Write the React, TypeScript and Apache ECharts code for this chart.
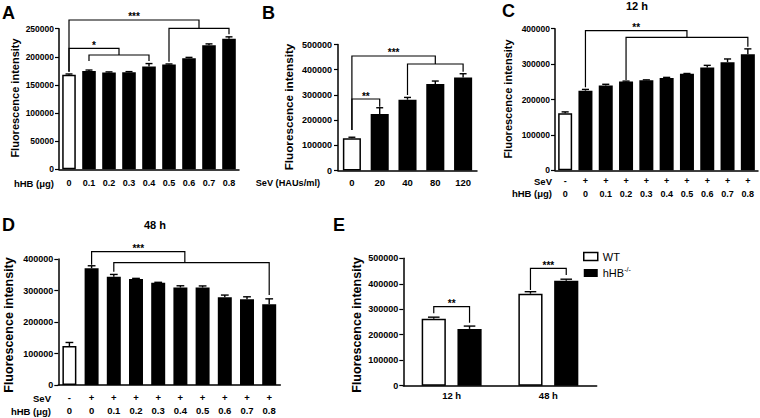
import React, { useEffect, useRef } from 'react';
import * as echarts from 'echarts';

const FONT = '"Liberation Sans", Arial, Helvetica, sans-serif';

// ---------- Panel A ----------
const aCategories = ['0', '0.1', '0.2', '0.3', '0.4', '0.5', '0.6', '0.7', '0.8'];
const aValues = [168000, 175000, 172000, 172500, 183000, 186500, 197500, 220500, 232000];
const aErrors = [1500, 1500, 1200, 1200, 5000, 800, 1500, 2500, 3500];
const aYMax = 250000;
const aYStep = 50000;
// [x1, x2, level, end1, end2] (x in category index, y in data units)
const aBrackets = [
  [0, 6.5, 265500, 173500, 250700],
  [5, 8, 250700, 191300, 240000],
  [0, 2.5, 215100, 173500, 203200],
  [1, 4, 203200, 192600, 192600],
];
const aBracketLabels = ['***', '', '*', ''];

// ---------- Panel B ----------
const bCategories = ['0', '20', '40', '80', '120'];
const bValues = [128000, 224000, 281000, 343000, 369000];
const bErrors = [4000, 25000, 9000, 12000, 15000];
const bYMax = 500000;
const bYStep = 100000;
const bBrackets = [
  [0, 3, 454400, 160700, 422600],
  [2, 4, 422600, 299600, 392000],
  [0, 1, 283700, 160700, 253200],
];
const bBracketLabels = ['***', '', '**'];

// ---------- Panel C (12 h) ----------
const cSeV = ['-', '+', '+', '+', '+', '+', '+', '+', '+', '+'];
const cHhb = ['0', '0', '0.1', '0.2', '0.3', '0.4', '0.5', '0.6', '0.7', '0.8'];
const cValues = [161500, 225000, 239500, 250500, 254500, 261000, 272500, 290500, 305500, 328000];
const cErrors = [3500, 3500, 3500, 1500, 1000, 1500, 1000, 6000, 9000, 15000];
const cYMax = 400000;
const cYStep = 100000;
const cBrackets = [
  [1, 6, 394400, 234500, 375700],
  [3, 9, 375700, 255100, 349200],
];
const cBracketLabels = ['**', ''];

// ---------- Panel D (48 h) ----------
const dSeV = ['-', '+', '+', '+', '+', '+', '+', '+', '+', '+'];
const dHhb = ['0', '0', '0.1', '0.2', '0.3', '0.4', '0.5', '0.6', '0.7', '0.8'];
const dValues = [123500, 370500, 344000, 336500, 325000, 309500, 309500, 278500, 272000, 256000];
const dErrors = [11500, 8000, 7000, 2000, 1000, 5500, 5000, 7000, 8000, 17500];
const dYMax = 400000;
const dYStep = 100000;
const dBrackets = [
  [1, 5.2, 423200, 382000, 388300],
  [2, 9, 388300, 359700, 285700],
];
const dBracketLabels = ['***', ''];

// ---------- Panel E ----------
const eCategories = ['12 h', '48 h'];
const eSeriesNames = ['WT', 'hHB-/-'];
const eWT = [263000, 361000];
const eWTErrors = [6000, 8000];
const eKO = [223000, 412000];
const eKOErrors = [11000, 6000];
const eYMax = 500000;
const eYStep = 100000;
// [category, level, endWT, endKO]
const eBrackets = [
  [0, 310100, 284200, 247300],
  [1, 460800, 375600, 434500],
];
const eBracketLabels = ['**', '***'];

// ---------- styling ----------
const E_BAR_W = 0.25;
const E_BAR_GAP = 0.48;
const E_OFF = (E_BAR_W * (1 + E_BAR_GAP)) / 2;
const WHITE_BAR = { color: '#fff', borderColor: '#000', borderWidth: 1.5 };
const BLACK_BAR = { color: '#000' };

function xAt(api: any, x: number) {
  const r = Math.round(x);
  const base = api.coord([r, 0])[0];
  const band = api.size([1, 0])[0];
  return base + (x - r) * band;
}

function errorSeries(grid: number, values: number[], errors: number[], offset: number, capFrac: number) {
  return {
    type: 'custom',
    xAxisIndex: grid,
    yAxisIndex: grid,
    silent: true,
    z: 5,
    data: values.map((v, i) => [i, v + errors[i]]),
    renderItem: (params: any, api: any) => {
      const i = params.dataIndex;
      const x = xAt(api, i + offset);
      const yLo = api.coord([i, values[i]])[1];
      const yHi = api.coord([i, values[i] + errors[i]])[1];
      const half = (api.size([1, 0])[0] * capFrac) / 2;
      const st = { stroke: '#000', lineWidth: 1.4 };
      return {
        type: 'group',
        children: [
          { type: 'line', shape: { x1: x, y1: yLo, x2: x, y2: yHi }, style: st },
          { type: 'line', shape: { x1: x - half, y1: yHi, x2: x + half, y2: yHi }, style: st },
        ],
      };
    },
  };
}

function bracketSeries(grid: number, brackets: number[][], labels: string[]) {
  return {
    type: 'custom',
    xAxisIndex: grid,
    yAxisIndex: grid,
    silent: true,
    z: 6,
    clip: false,
    data: brackets.map((b) => [Math.round(b[0]), b[2]]),
    renderItem: (params: any, api: any) => {
      const b = brackets[params.dataIndex];
      const x1 = xAt(api, b[0]);
      const x2 = xAt(api, b[1]);
      const y = api.coord([0, b[2]])[1];
      const y1 = api.coord([0, b[3]])[1];
      const y2 = api.coord([0, b[4]])[1];
      const children: any[] = [
        {
          type: 'polyline',
          shape: { points: [[x1, y1], [x1, y], [x2, y], [x2, y2]] },
          style: { stroke: '#000', lineWidth: 1.2, fill: null },
        },
      ];
      const label = labels[params.dataIndex];
      if (label) {
        children.push({
          type: 'text',
          x: (x1 + x2) / 2,
          y: y - 3,
          style: { text: label, fill: '#000', font: `bold 10px ${FONT}`, align: 'center', verticalAlign: 'middle' },
        });
      }
      return { type: 'group', children };
    },
  };
}

function xAxisBase(grid: number, data: string[], fontSize: number, margin: number, lineHeight?: number) {
  return {
    type: 'category',
    gridIndex: grid,
    data,
    axisLine: { lineStyle: { color: '#000', width: 1.5 } },
    axisTick: { show: false },
    axisLabel: {
      interval: 0,
      color: '#000',
      fontSize,
      fontWeight: 'bold',
      fontFamily: FONT,
      margin,
      lineHeight,
    },
  };
}

function yAxisBase(grid: number, max: number, step: number, fontSize: number, margin: number) {
  return {
    type: 'value',
    gridIndex: grid,
    min: 0,
    max,
    interval: step,
    splitLine: { show: false },
    axisLine: { show: true, lineStyle: { color: '#000', width: 1.5 } },
    axisTick: { show: true, length: 4, lineStyle: { color: '#000', width: 1.2 } },
    axisLabel: {
      color: '#000',
      fontSize,
      fontWeight: 'bold',
      fontFamily: FONT,
      margin,
      formatter: (v: number) => String(v),
    },
  };
}

function barSeries(grid: number, values: number[], catGap: string) {
  return {
    type: 'bar',
    xAxisIndex: grid,
    yAxisIndex: grid,
    barCategoryGap: catGap,
    itemStyle: BLACK_BAR,
    data: values.map((v, i) => (i === 0 ? { value: v, itemStyle: WHITE_BAR } : v)),
  };
}

function text(t: string, x: number, y: number, size: number, opts: any = {}) {
  return {
    type: 'text',
    x,
    y,
    rotation: opts.rotation || 0,
    silent: true,
    style: {
      text: t,
      fill: '#000',
      font: `${opts.weight || 'bold'} ${size}px ${FONT}`,
      align: opts.align || 'center',
      verticalAlign: 'middle',
    },
  };
}

function buildOption() {
  const cCats = cSeV.map((s, i) => `${s}\n${cHhb[i]}`);
  const dCats = dSeV.map((s, i) => `${s}\n${dHhb[i]}`);
  const eBr = eBrackets.map((b) => [b[0] - E_OFF, b[0] + E_OFF, b[1], b[2], b[3]]);
  const yTitle = 'Fluorescence intensity';
  const rot = Math.PI / 2;

  return {
    animation: false,
    backgroundColor: '#fff',
    textStyle: { fontFamily: FONT },
    grid: [
      { left: 59, top: 28.7, width: 180, height: 140.6 },
      { left: 338, top: 44.5, width: 139, height: 126 },
      { left: 555, top: 28.7, width: 203, height: 141.6 },
      { left: 58.3, top: 259, width: 222, height: 126 },
      { left: 403.3, top: 258.3, width: 193.4, height: 127.4 },
    ].map((g) => ({ ...g, containLabel: false, outerBoundsMode: 'none' })),
    xAxis: [
      xAxisBase(0, aCategories, 9, 9),
      xAxisBase(1, bCategories, 9.5, 7),
      xAxisBase(2, cCats, 9, 5, 12.3),
      xAxisBase(3, dCats, 9.5, 6, 13),
      xAxisBase(4, eCategories, 9.5, 5),
    ],
    yAxis: [
      yAxisBase(0, aYMax, aYStep, 8.5, 5),
      yAxisBase(1, bYMax, bYStep, 9, 6),
      yAxisBase(2, cYMax, cYStep, 8.5, 5),
      yAxisBase(3, dYMax, dYStep, 9, 5),
      yAxisBase(4, eYMax, eYStep, 9, 5),
    ],
    legend: {
      left: 583,
      top: 251,
      orient: 'vertical',
      padding: 0,
      itemWidth: 14,
      itemHeight: 8,
      itemGap: 4,
      icon: 'rect',
      selectedMode: false,
      data: [
        { name: eSeriesNames[0], itemStyle: WHITE_BAR },
        { name: eSeriesNames[1], itemStyle: BLACK_BAR },
      ],
      formatter: (name: string) => (name === eSeriesNames[1] ? '{b|hHB}{s|-/-}' : '{b|' + name + '}'),
      textStyle: {
        color: '#000',
        fontFamily: FONT,
        fontSize: 11,
        rich: {
          b: { fontSize: 11, lineHeight: 14, fontFamily: FONT, color: '#000' },
          s: { fontSize: 7, verticalAlign: 'top', fontFamily: FONT, color: '#000' },
        },
      },
    },
    graphic: [
      text('A', 2, 13, 18, { align: 'left' }),
      text('B', 262, 13, 18, { align: 'left' }),
      text('C', 502, 11, 18, { align: 'left' }),
      text('D', 2, 225, 18, { align: 'left' }),
      text('E', 333, 225, 18, { align: 'left' }),
      text('12 h', 637, 6, 11),
      text('48 h', 155, 225, 11),
      text(yTitle, 15, 98, 11, { rotation: rot }),
      text(yTitle, 288, 107, 11.7, { rotation: rot }),
      text(yTitle, 508, 99, 11, { rotation: rot }),
      text(yTitle, 8.5, 325, 12.5, { rotation: rot }),
      text(yTitle, 356.5, 325, 12.5, { rotation: rot }),
      text('hHB (μg)', 54, 183, 9.5, { align: 'right' }),
      text('SeV (HAUs/ml)', 320, 182.5, 9.2, { align: 'right' }),
      text('SeV', 552, 181, 9.5, { align: 'right' }),
      text('hHB (μg)', 552, 193.3, 9.5, { align: 'right' }),
      text('SeV', 51, 398.7, 9.5, { align: 'right' }),
      text('hHB (μg)', 51, 411.7, 9.5, { align: 'right' }),
    ],
    series: [
      barSeries(0, aValues, '32%'),
      errorSeries(0, aValues, aErrors, 0, 0.35),
      bracketSeries(0, aBrackets, aBracketLabels),

      barSeries(1, bValues, '35%'),
      errorSeries(1, bValues, bErrors, 0, 0.25),
      bracketSeries(1, bBrackets, bBracketLabels),

      barSeries(2, cValues, '31%'),
      errorSeries(2, cValues, cErrors, 0, 0.35),
      bracketSeries(2, cBrackets, cBracketLabels),

      barSeries(3, dValues, '37%'),
      errorSeries(3, dValues, dErrors, 0, 0.35),
      bracketSeries(3, dBrackets, dBracketLabels),

      {
        type: 'bar',
        name: eSeriesNames[0],
        xAxisIndex: 4,
        yAxisIndex: 4,
        barWidth: `${E_BAR_W * 100}%`,
        barGap: `${E_BAR_GAP * 100}%`,
        itemStyle: WHITE_BAR,
        data: eWT,
      },
      {
        type: 'bar',
        name: eSeriesNames[1],
        xAxisIndex: 4,
        yAxisIndex: 4,
        barWidth: `${E_BAR_W * 100}%`,
        barGap: `${E_BAR_GAP * 100}%`,
        itemStyle: BLACK_BAR,
        data: eKO,
      },
      errorSeries(4, eWT, eWTErrors, -E_OFF, 0.12),
      errorSeries(4, eKO, eKOErrors, E_OFF, 0.12),
      bracketSeries(4, eBr, eBracketLabels),
    ],
  };
}

export default function App() {
  const ref = useRef<HTMLDivElement>(null);
  useEffect(() => {
    document.body.style.margin = '0';
    const chart = echarts.init(ref.current!, null, { renderer: 'svg' });
    chart.setOption(buildOption() as any);
    return () => chart.dispose();
  }, []);
  return <div ref={ref} style={{ width: 760, height: 418, background: '#fff' }} />;
}
